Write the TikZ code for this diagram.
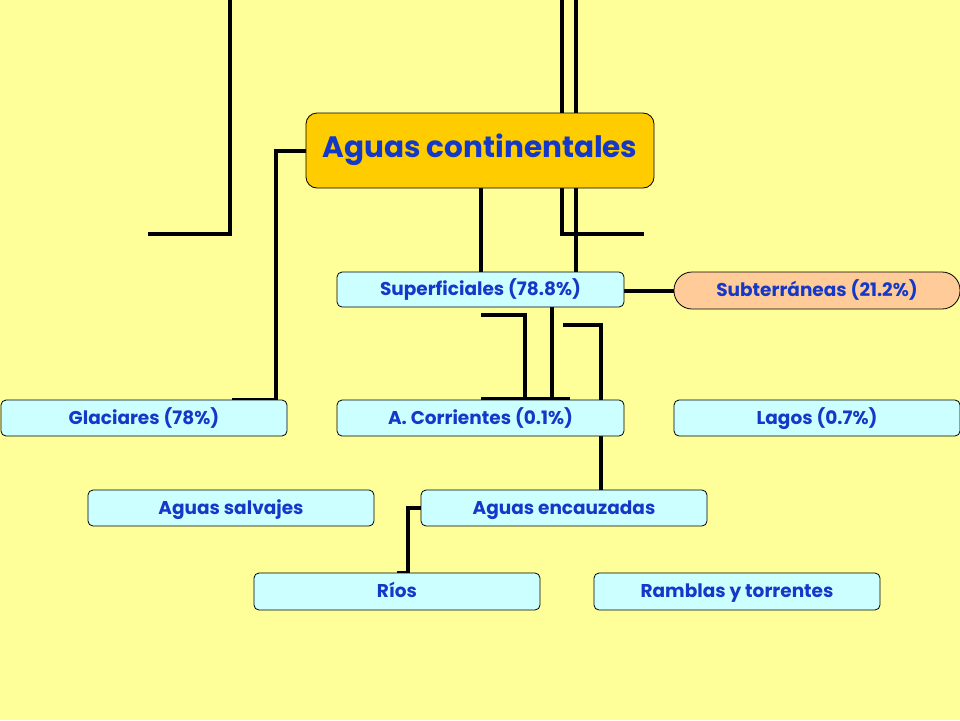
\documentclass[tikz,border=0pt]{standalone}
\usepackage{fontspec}
\setmainfont{Poppins}
\definecolor{bg}{HTML}{FFFF99}
\definecolor{gold}{HTML}{FFCC00}
\definecolor{cyanbox}{HTML}{CCFFFF}
\definecolor{peach}{HTML}{FFCC99}
\definecolor{txt}{HTML}{1438C8}
\tikzset{
  box/.style={draw=black, line width=0.8pt, fill=cyanbox, rounded corners=5pt,
    minimum width=286pt, minimum height=36pt, inner sep=0pt,
    text height=1.2em, text depth=0em,
    text=txt, font=\fontsize{18.5}{20}\selectfont\bfseries},
  mainbox/.style={draw=black, line width=0.8pt, fill=gold, rounded corners=11pt,
    minimum width=348pt, minimum height=75pt, inner sep=0pt,
    text height=1.4em, text depth=0em,
    text=txt, font=\fontsize{29.5}{33}\selectfont\bfseries},
  pill/.style={box, fill=peach, rounded corners=18pt, minimum height=37pt},
  conn/.style={draw=black, line width=3.3pt}
}
\begin{document}
\begin{tikzpicture}[x=1pt,y=-1pt]
\fill[bg] (0,0) rectangle (960,720);
\useasboundingbox (0,0) rectangle (960,720);
% free coordinates
\coordinate (t1) at (230,0);
\coordinate (t1e) at (148,234);
\coordinate (t2) at (562,0);
\coordinate (t2e) at (644,234);
\coordinate (t3) at (576,0);
\coordinate (g1) at (276,151);
\coordinate (s1) at (481,315);
\coordinate (s1b) at (525,399);
\coordinate (s1l) at (481,399);
\coordinate (s1r) at (570,399);
\coordinate (s3) at (563,325);
\coordinate (r1) at (397,573);
% connectors drawn behind nodes
\draw[conn] (t1) -- (230,234) -- (t1e);
\draw[conn] (t2) -- (562,234) -- (t2e);
\draw[conn] (t3) -- (576,272);
\draw[conn] (481,188) -- (481,272);
\draw[conn] (306,151) -- (g1) -- (276,400) -- (232,400);
\draw[conn] (624,291) -- (674,291);
\draw[conn] (s1) -- (525,315) -- (s1b);
\draw[conn] (s1l) -- (s1r);
\draw[conn] (552,307) -- (552,399);
\draw[conn] (s3) -- (601,325) -- (601,490);
\draw[conn] (421,508) -- (408,508) -- (408,573);
\draw[conn] (r1) -- (408,573);
% nodes
\node[mainbox] (main) at (480,150.5) {Aguas continentales};
\node[box, minimum width=287pt, minimum height=35pt] (sup) at (480.5,289.5) {Superficiales (78.8\%)};
\node[pill] (sub) at (817,290.5) {Subterráneas (21.2\%)};
\node[box] (gla) at (144,418) {Glaciares (78\%)};
\node[box, minimum width=287pt] (cor) at (480.5,418) {A. Corrientes (0.1\%)};
\node[box] (lag) at (817,418) {Lagos (0.7\%)};
\node[box] (sal) at (231,508) {Aguas salvajes};
\node[box] (enc) at (564,508) {Aguas encauzadas};
\node[box, minimum height=37pt] (rio) at (397,591.5) {Ríos};
\node[box, minimum height=37pt] (ram) at (737,591.5) {Ramblas y torrentes};
\end{tikzpicture}
\end{document}
